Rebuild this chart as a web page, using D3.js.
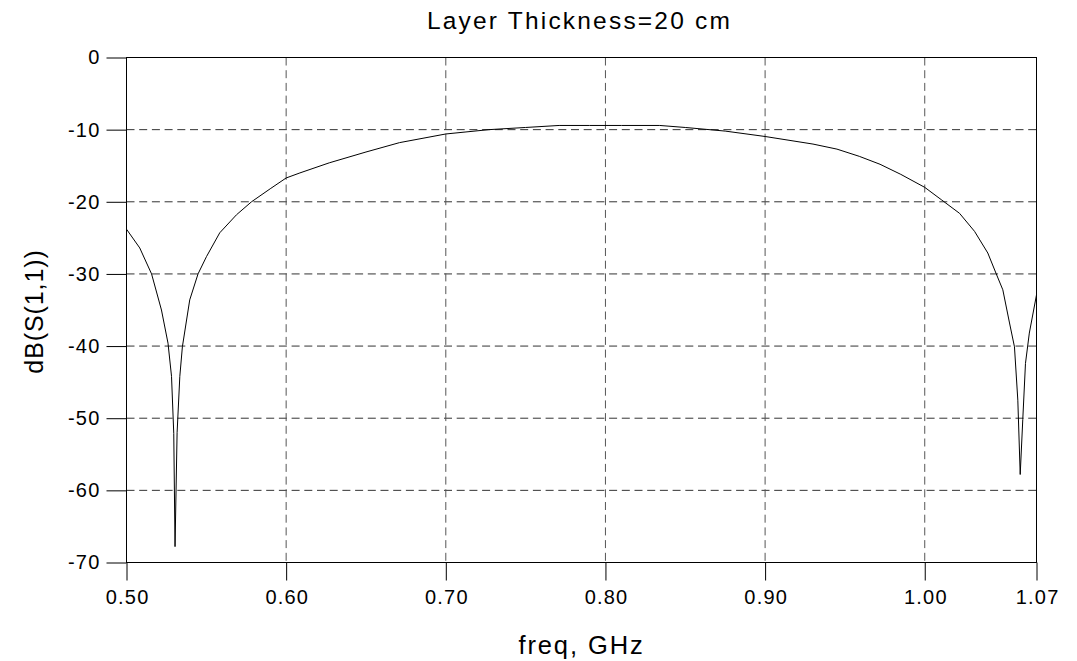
<!DOCTYPE html>
<html>
<head>
<meta charset="utf-8">
<script src="https://cdn.jsdelivr.net/npm/d3@7"></script>
<style>
  body { margin: 0; background: #fff; }
  svg { display: block; font-family: "Liberation Sans", Arial, sans-serif; }
</style>
</head>
<body>
<div id="chart"></div>
<script>
// values
const freq = [0.500, 0.5083, 0.5157, 0.5219, 0.526, 0.5282, 0.5296, 0.5304, 0.5317, 0.5334,
  0.535, 0.5396, 0.5448, 0.5501, 0.5584, 0.5689, 0.5783, 0.590, 0.600, 0.6086,
  0.627, 0.650, 0.671, 0.700, 0.727, 0.750, 0.771, 0.790, 0.810, 0.834,
  0.850, 0.875, 0.900, 0.930, 0.945, 0.959, 0.972, 0.985, 1.000, 1.0103,
  1.0218, 1.0312, 1.0395, 1.0448, 1.0489, 1.0531, 1.0562, 1.0583, 1.0598, 1.0614,
  1.0631, 1.0655, 1.070];
const dbS11 = [-23.8, -26.4, -30.0, -35.0, -39.6, -44.2, -52.1, -67.8, -52.0, -44.2,
  -40.1, -33.6, -30.0, -27.6, -24.3, -21.8, -20.0, -18.2, -16.7, -16.0,
  -14.6, -13.1, -11.8, -10.6, -10.0, -9.7, -9.42, -9.42, -9.42, -9.42,
  -9.7, -10.2, -10.95, -12.0, -12.7, -13.7, -14.8, -16.2, -18.0, -19.7,
  -21.6, -24.1, -27.1, -30.0, -32.2, -36.8, -40.1, -47.5, -57.8, -50.2,
  -42.4, -38.2, -32.9];
const xTicks = [0.50, 0.60, 0.70, 0.80, 0.90, 1.00, 1.07];
const yTicks = [0, -10, -20, -30, -40, -50, -60, -70];
const title = "Layer Thickness=20 cm";

const W = 1077, H = 661;
const m = { left: 126.5, right: 1036.5, top: 57.5, bottom: 562.5 };

const svg = d3.select("#chart").append("svg").attr("width", W).attr("height", H);

const x = d3.scaleLinear().domain([0.5, 1.07]).range([m.left, m.right]);
const y = d3.scaleLinear().domain([-70, 0]).range([m.bottom, m.top]);

// grid (dashed)
svg.append("g").selectAll("line").data(yTicks.slice(1, -1)).join("line")
  .attr("x1", m.left).attr("x2", m.right)
  .attr("y1", d => y(d)).attr("y2", d => y(d))
  .attr("stroke", "#333").attr("stroke-dasharray", "8,4.7");
svg.append("g").selectAll("line").data(xTicks.slice(1, -1)).join("line")
  .attr("x1", d => x(d)).attr("x2", d => x(d))
  .attr("y1", m.top).attr("y2", m.bottom)
  .attr("stroke", "#555").attr("stroke-dasharray", "8,4.7");

// axes
const xAxis = d3.axisBottom(x).tickValues(xTicks).tickFormat(d3.format(".2f"))
  .tickSize(18).tickPadding(9).tickSizeOuter(0);
const yAxis = d3.axisLeft(y).tickValues(yTicks).tickFormat(d => String(d))
  .tickSize(20).tickPadding(6).tickSizeOuter(0);

const gx = svg.append("g").attr("transform", `translate(0,${m.bottom})`).call(xAxis);
const gy = svg.append("g").attr("transform", `translate(${m.left},0)`).call(yAxis);
[gx, gy].forEach(g => {
  g.select(".domain").remove();
  g.selectAll(".tick line").attr("stroke", "#000");
  g.selectAll("text").attr("fill", "#000")
    .style("font-size", "20px").style("letter-spacing", "1.2px")
    .attr("font-family", null);
});
gx.selectAll("text").attr("dx", "0.6px");

// frame
svg.append("rect")
  .attr("x", m.left).attr("y", m.top)
  .attr("width", m.right - m.left).attr("height", m.bottom - m.top)
  .attr("fill", "none").attr("stroke", "#000");

// curve
const line = d3.line().x((d, i) => x(freq[i])).y(d => y(d));
svg.append("path").datum(dbS11)
  .attr("d", line).attr("fill", "none")
  .attr("stroke", "#000").attr("stroke-width", 1);

// labels
svg.append("text").attr("x", 579.5).attr("y", 29)
  .attr("text-anchor", "middle").style("font-size", "24.5px").style("letter-spacing", "2.2px")
  .text(title);
svg.append("text").attr("x", 581.5).attr("y", 654)
  .attr("text-anchor", "middle").style("font-size", "25.5px").style("letter-spacing", "1.9px")
  .text("freq, GHz");
svg.append("text").attr("transform", "translate(43,311.5) rotate(-90)")
  .attr("text-anchor", "middle").style("font-size", "25px").style("letter-spacing", "0.9px")
  .text("dB(S(1,1))");
</script>
</body>
</html>
